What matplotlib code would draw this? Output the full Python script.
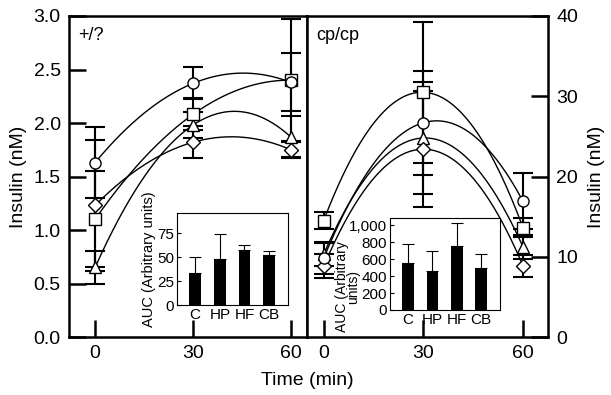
import numpy as np
import matplotlib
matplotlib.use("Agg")
import matplotlib.pyplot as plt

plt.rcParams['font.family'] = ['Liberation Sans', 'DejaVu Sans']

times = [0, 30, 60]
markers = {'circle': 'o', 'square': 's', 'triangle': '^', 'diamond': 'D'}

# Left panel (+/?) insulin, nM
lean_mean = {'circle': [1.63, 2.37, 2.38], 'square': [1.10, 2.08, 2.40],
             'triangle': [0.65, 1.98, 1.87], 'diamond': [1.23, 1.82, 1.75]}
lean_err = {'circle': [0.33, 0.15, 0.27], 'square': [0.45, 0.15, 0.57],
            'triangle': [0.15, 0.12, 0.20], 'diamond': [0.61, 0.15, 0.07]}

# Right panel (cp/cp) insulin, nM
obese_mean = {'circle': [9.8, 26.7, 16.9], 'square': [14.5, 30.5, 13.6],
              'triangle': [10.3, 24.8, 11.2], 'diamond': [8.8, 23.4, 8.85]}
obese_err = {'circle': [1.9, 6.5, 3.5], 'square': [1.1, 8.8, 1.2],
             'triangle': [1.5, 7.0, 1.5], 'diamond': [1.5, 7.2, 1.35]}

auc_groups = ['C', 'HP', 'HF', 'CB']
auc_lean = [33, 48, 57, 52]
auc_lean_err = [17, 26, 6, 4]
auc_obese = [550, 460, 750, 500]
auc_obese_err = [230, 230, 270, 160]

fig = plt.figure(figsize=(6.11, 3.95), dpi=100)
axL = fig.add_axes([0.113, 0.1468, 0.3895, 0.8127])
axR = fig.add_axes([0.5025, 0.1468, 0.3944, 0.8127])

def draw_panel(ax, means, errs):
    tt = np.linspace(0, 60, 200)
    for key in ['triangle', 'diamond', 'square', 'circle']:
        m = means[key]
        c = np.polyfit(times, m, 2)
        ax.plot(tt, np.polyval(c, tt), color='black', lw=1.0, zorder=2)
        ax.errorbar(times, m, yerr=errs[key], fmt='none', ecolor='black',
                    elinewidth=1.5, capsize=7, capthick=1.5, zorder=3)
    for key in ['triangle', 'diamond', 'square', 'circle']:
        ax.plot(times, means[key], linestyle='none', marker=markers[key],
                markersize=8 if key != 'diamond' else 7, markerfacecolor='white',
                markeredgecolor='black', markeredgewidth=1.0, zorder=4)
    for s in ax.spines.values():
        s.set_linewidth(1.8)
    ax.set_xticks(times)
    ax.tick_params(axis='both', direction='in', length=12, width=1.8,
                   labelsize=14, pad=6)

draw_panel(axL, lean_mean, lean_err)
axL.set_xlim(-8, 65)
axL.set_ylim(0, 3.0)
axL.set_yticks(np.arange(0, 3.01, 0.5))
axL.set_yticklabels([f'{v:.1f}' for v in np.arange(0, 3.01, 0.5)])
axL.set_ylabel('Insulin (nM)', fontsize=14, labelpad=5)
axL.text(0.04, 0.965, '+/?', transform=axL.transAxes, fontsize=13, va='top')

draw_panel(axR, obese_mean, obese_err)
axR.set_xlim(-5, 67.5)
axR.set_ylim(0, 40)
axR.set_yticks([0, 10, 20, 30, 40])
axR.yaxis.tick_right()
axR.yaxis.set_label_position('right')
axR.tick_params(axis='y', direction='in', length=12, width=1.8, labelsize=14)
axR.set_ylabel('Insulin (nM)', fontsize=14, labelpad=7)
axR.text(0.04, 0.965, 'cp/cp', transform=axR.transAxes, fontsize=13, va='top')

fig.text(0.503, 0.025, 'Time (min)', fontsize=14, ha='center')

# insets
def inset(rect, vals, errs, ylim, yticks, yticklabels, ylabel, lab_fs):
    ax = fig.add_axes(rect)
    x = np.arange(len(auc_groups))
    ax.bar(x, vals, width=0.48, color='black', zorder=2)
    ax.errorbar(x, vals, yerr=[[0] * len(vals), errs], fmt='none',
                ecolor='black', elinewidth=0.8, capsize=4, capthick=0.8, zorder=1)
    ax.set_xlim(-0.74, 3.77)
    ax.set_ylim(*ylim)
    ax.set_yticks(yticks)
    ax.set_yticklabels(yticklabels)
    ax.set_xticks(x)
    ax.set_xticklabels(auc_groups)
    ax.tick_params(axis='x', length=0, labelsize=11, pad=2)
    ax.tick_params(axis='y', direction='in', length=3, labelsize=11, pad=2)
    for s in ax.spines.values():
        s.set_linewidth(0.8)
    ax.set_ylabel(ylabel, fontsize=lab_fs, labelpad=1, linespacing=0.8)
    return ax

inset([0.2897, 0.2278, 0.1817, 0.233], auc_lean, auc_lean_err, (0, 96),
      [0, 25, 50, 75], ['0', '25', '50', '75'], 'AUC (Arbitrary units)', 10.5)
axi = inset([0.6383, 0.2152, 0.18, 0.2329], auc_obese, auc_obese_err, (0, 1083),
            [0, 200, 400, 600, 800, 1000],
            ['0', '200', '400', '600', '800', '1,000'],
            'AUC (Arbitrary\nunits)', 10)
axi.yaxis.set_label_coords(-0.27, 0.25)

fig.savefig('out.png', dpi=100)
